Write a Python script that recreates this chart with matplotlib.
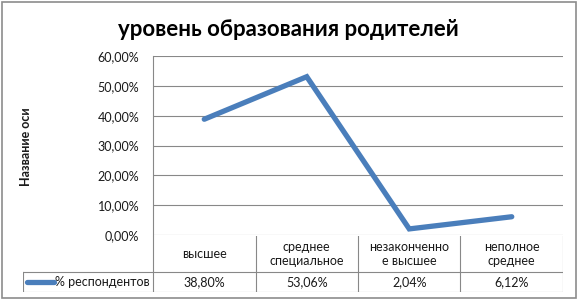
import matplotlib
matplotlib.use("Agg")
import matplotlib.pyplot as plt
from matplotlib.patches import Rectangle

plt.rcParams['font.family'] = ['Lato', 'Noto Sans', 'DejaVu Sans']

categories = ["высшее", "среднее\nспециальное", "незаконченно\nе высшее", "неполное\nсреднее"]
values = [38.80, 53.06, 2.04, 6.12]
series_name = "% респондентов"
yticks = [0, 10, 20, 30, 40, 50, 60]

W, H = 579, 301
blue = "#4a7ebb"
grid_c = "#888888"
txt_c = "#1a1a1a"


def fx(px):
    return px / W


def fy(py):
    return 1 - py / H


def pct(v):
    return ("%.2f%%" % v).replace(".", ",")


fig = plt.figure(figsize=(W / 100, H / 100), dpi=100)

# main plot area
ax = fig.add_axes([fx(153), fy(235), fx(563) - fx(153), fy(56) - fy(235)])
xs = [i + 0.5 for i in range(len(values))]
ax.plot(xs, values, color=blue, lw=3.8, solid_capstyle='round', solid_joinstyle='miter', zorder=3)
ax.set_xlim(0, 4)
ax.set_ylim(0, 60)
ax.set_yticks(yticks)
ax.set_yticklabels([pct(t) for t in yticks], fontsize=9, color=txt_c)
ax.set_xticks([])
ax.tick_params(axis='y', length=0, pad=10)
for t in yticks:
    ax.axhline(t, color=grid_c, lw=0.8, zorder=1)
for s in ['top', 'right', 'bottom']:
    ax.spines[s].set_visible(False)
ax.spines['left'].set_color(grid_c)
ax.spines['left'].set_linewidth(0.8)

fig.text(fx(26), fy(147), "Название оси", rotation=90, ha='center', va='center',
         fontsize=9, fontweight='bold', color=txt_c)

# data table
lead = 130 / 102.5
tax = fig.add_axes([fx(23), fy(292), fx(563) - fx(23), fy(236) - fy(292)])
tax.set_xlim(-lead, 4)
tax.set_ylim(0, 56)
tax.axis('off')
tax.plot([-lead, 4], [20, 20], color=grid_c, lw=0.8)
tax.plot([-lead, 4], [0, 0], color=grid_c, lw=0.8)
tax.plot([-lead, -lead], [0, 20], color=grid_c, lw=0.8)
for i in range(5):
    tax.plot([i, i], [0, 56], color=grid_c, lw=0.8)
for i, (c, v) in enumerate(zip(categories, values)):
    tax.text(i + 0.5, 38, c, ha='center', va='center', fontsize=9,
             color=txt_c, linespacing=1.25)
    tax.text(i + 0.5, 10, pct(v), ha='center', va='center', fontsize=9, color=txt_c)
tax.plot([-lead + 4 / 102.5, -lead + 31 / 102.5], [10, 10], color=blue, lw=3.8,
         solid_capstyle='round')
tax.text(-lead + 32 / 102.5, 10, series_name, ha='left', va='center', fontsize=9, color=txt_c)

fig.text(fx(288), fy(29), "уровень образования родителей", ha='center', va='center',
         fontsize=16, fontweight='bold')

fig.patches.append(Rectangle((fx(2), fy(298)), fx(574), fy(2) - fy(298), transform=fig.transFigure,
                             fill=False, edgecolor="#8c8c8c", lw=1.2))

fig.savefig("out.png", dpi=100)
